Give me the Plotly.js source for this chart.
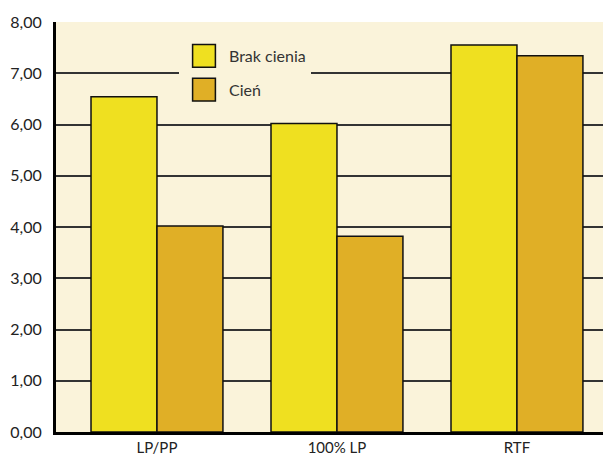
<!DOCTYPE html>
<html><head><meta charset="utf-8">
<script src="https://cdn.plot.ly/plotly-3.0.1.min.js"></script>
<style>html,body{margin:0;padding:0;background:#fff;}</style>
</head><body>
<div id="chart" style="width:603px;height:455px;"></div>
<script>
const categories = ['LP/PP', '100% LP', 'RTF'];
const seriesNames = ['Brak cienia', 'Cień'];
const brakCienia = [6.54, 6.02, 7.55];
const cien = [4.02, 3.82, 7.34];

const colors = ['#EFE020', '#E0AF26'];
const font = 'Lato, "Open Sans", sans-serif';

const traces = [brakCienia, cien].map((vals, i) => ({
  type: 'bar',
  name: seriesNames[i],
  x: categories,
  y: vals,
  legendgroup: 'g' + i,
  marker: {color: colors[i], line: {color: '#111', width: 1.5}},
  hoverinfo: 'x+y'
}));

const layout = {
  width: 603, height: 455,
  margin: {l: 56, r: 0, t: 22, b: 23},
  paper_bgcolor: '#ffffff',
  plot_bgcolor: '#FAF3DA',
  separators: ', ',
  barmode: 'group',
  bargap: 0.267,
  bargroupgap: 0,
  font: {family: font, size: 15, color: '#222'},
  xaxis: {
    type: 'category',
    range: [-0.561, 2.478],
    showline: true, linewidth: 3, linecolor: '#000',
    showgrid: false, ticks: '', automargin: false,
    tickfont: {family: font, size: 15, color: '#222'}
  },
  yaxis: {
    range: [0, 8], dtick: 1, tick0: 0,
    tickformat: '.2f',
    showline: true, linewidth: 3, linecolor: '#000',
    showgrid: true, gridcolor: '#333', gridwidth: 2,
    zeroline: false, ticks: '', automargin: false,
    ticklabelstandoff: 8,
    tickfont: {family: font, size: 16, color: '#222'}
  },
  showlegend: true,
  legend: {
    x: (179 - 56) / 547, xanchor: 'left',
    y: 1 - (39 - 22) / 410, yanchor: 'top',
    bgcolor: '#FAF3DA', borderwidth: 0,
    itemwidth: 40,
    entrywidth: 132, entrywidthmode: 'pixels',
    traceorder: 'grouped', tracegroupgap: 10,
    font: {family: font, size: 16, color: '#333'},
    itemclick: false, itemdoubleclick: false
  }
};

Plotly.newPlot('chart', traces, layout, {displayModeBar: false, staticPlot: true}).then(() => {
  document.querySelectorAll('.legend .legendpoints path').forEach(p => {
    const t = p.getAttribute('transform') || '';
    p.setAttribute('transform', t + ' scale(1.9)');
    p.style.strokeWidth = '0.8px';
    p.style.stroke = '#111';
  });
});
</script>
</body></html>
